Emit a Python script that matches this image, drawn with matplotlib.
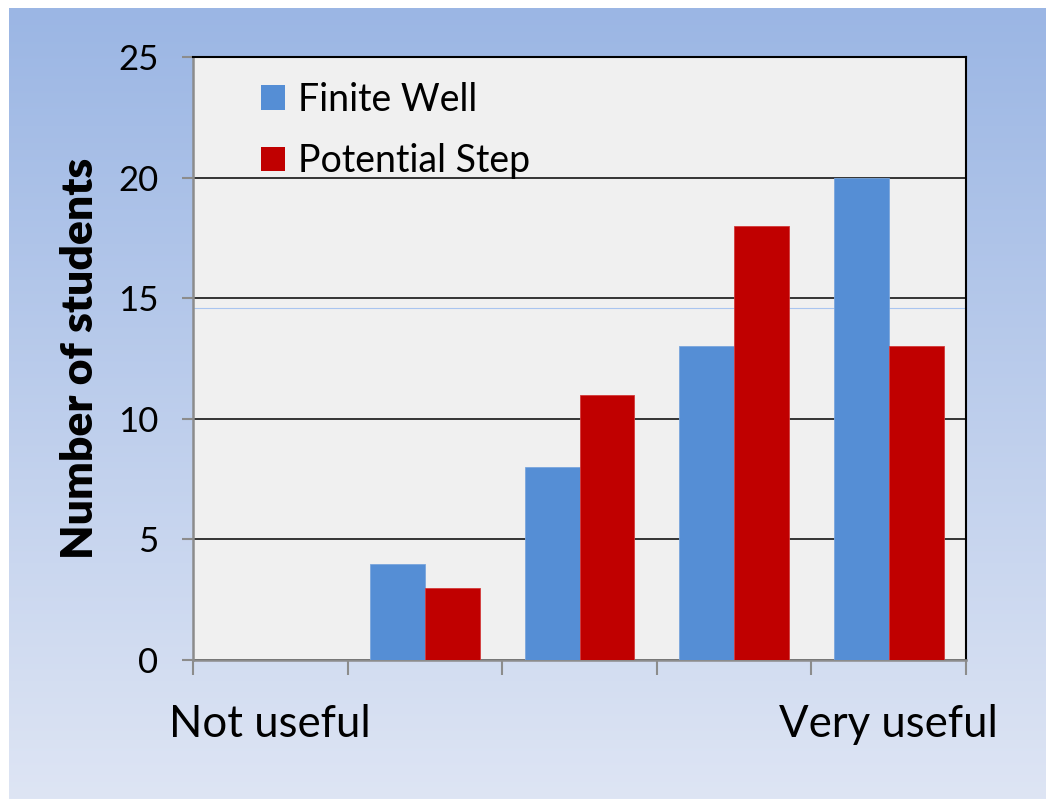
import numpy as np
import matplotlib
matplotlib.use('Agg')
import matplotlib.pyplot as plt
from matplotlib.patches import Patch

# ── DATA ──────────────────────────────────────────────────────
categories = [1, 2, 3, 4, 5]
finite_well = [0, 4, 8, 13, 20]
potential_step = [0, 3, 11, 18, 13]
series_names = ['Finite Well', 'Potential Step']
end_labels = ['Not useful', '', '', '', 'Very useful']
y_ticks = [0, 5, 10, 15, 20, 25]

BLUE = '#558ed5'
RED = '#c00000'
FONT = 'Lato'

plt.rcParams['font.family'] = [FONT, 'DejaVu Sans']

W, H = 1046, 799
fig = plt.figure(figsize=(W / 100, H / 100), dpi=100)
fig.patch.set_facecolor('white')

# ── slide background: vertical blue gradient, pixel-exact ─────
top_c = np.array([155, 182, 228]) / 255
bot_c = np.array([222, 229, 244]) / 255
x0, y0 = 9, 8
gh, gw = H - y0, W - x0
t = np.linspace(0, 1, gh)[:, None, None]
grad = np.broadcast_to(top_c * (1 - t) + bot_c * t, (gh, gw, 3))
fig.figimage(np.ascontiguousarray(grad), xo=x0, yo=0, origin='upper', zorder=-10)

# ── bar chart ─────────────────────────────────────────────────
ax = fig.add_axes([193 / W, 1 - 660 / H, 773 / W, 603 / H])
ax.set_facecolor('#f0f0f0')

x = np.array(categories)
w = 0.355
ax.bar(x - w / 2, finite_well, width=w, color=BLUE, edgecolor='#7aa6dd',
       linewidth=0.6, zorder=3, label=series_names[0])
ax.bar(x + w / 2, potential_step, width=w, color=RED, edgecolor='#d33a3a',
       linewidth=0.6, zorder=3, label=series_names[1])

ax.set_xlim(0.5, 5.5)
ax.set_ylim(0, 25)
ax.set_yticks(y_ticks)
ax.yaxis.grid(True, color='black', linewidth=1.1, zorder=1)
ax.set_axisbelow(True)
ax.axhline(14.6, color='#a9c5f0', linewidth=0.8, zorder=1.5)

# category labels at the ends, tick marks on the boundaries
ax.set_xticks(categories)
ax.set_xticklabels(end_labels, fontsize=31.5)
ax.tick_params(axis='x', which='major', length=0, pad=32)
ax.set_xticks(np.arange(0.5, 6.0, 1.0), minor=True)
ax.tick_params(axis='x', which='minor', length=11, width=1.5, color='#8c8c8c',
               direction='out')
ax.tick_params(axis='y', length=8, width=1.5, color='#8c8c8c', direction='out',
               labelsize=25, pad=17)

for side in ['left', 'bottom']:
    ax.spines[side].set_color('#8c8c8c')
    ax.spines[side].set_linewidth(1.8)
for side in ['top', 'right']:
    ax.spines[side].set_color('black')
    ax.spines[side].set_linewidth(1.5)

ax.set_ylabel('Number of students', fontsize=32, fontweight='heavy', labelpad=13)

handles = [Patch(facecolor=BLUE, edgecolor='none'), Patch(facecolor=RED, edgecolor='none')]
ax.legend(handles, series_names, loc='upper left', bbox_to_anchor=(0.044, 1.015),
          frameon=False, fontsize=27, handlelength=0.64, handleheight=0.64,
          handletextpad=0.35, labelspacing=0.68)

fig.savefig('out.png', dpi=100)
